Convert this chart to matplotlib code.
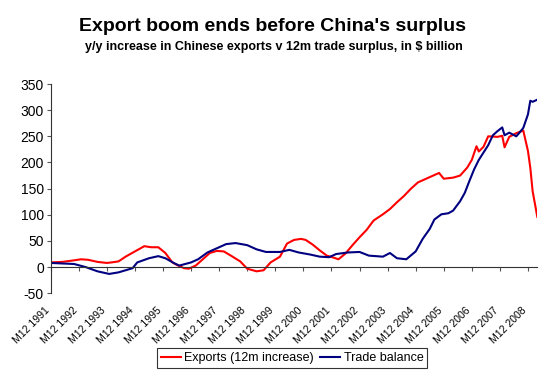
import matplotlib
matplotlib.use("Agg")
import matplotlib.pyplot as plt
import matplotlib.transforms as mtransforms
import numpy as np

plt.rcParams['font.family'] = ['Liberation Sans', 'DejaVu Sans']
plt.rcParams['axes.unicode_minus'] = False

### Data (x = months since Dec 1991)
export_months = [0, 5, 10, 13, 16, 20, 24, 26, 29, 32, 36, 40, 43, 46, 49, 52, 54, 57, 59,
                 62, 65, 68, 71, 74, 77, 81, 84, 88, 91, 94, 98, 101, 104, 107, 109, 112,
                 115, 118, 121, 123, 126, 129, 132, 135, 138, 142, 145, 148, 151, 154, 157,
                 160, 163, 166, 168, 172, 175, 178, 180, 182, 183, 185, 187, 191, 193, 194,
                 196, 199, 202, 204, 205, 206, 208]
export_values = [9, 10, 13, 15, 14, 10, 8, 9, 11, 20, 30, 40, 38, 38, 27, 9, 4, -2, -3,
                 3, 15, 27, 31, 30, 22, 11, -3, -8, -6, 9, 20, 45, 52, 54, 52, 43,
                 32, 22, 18, 15, 26, 42, 57, 71, 89, 101, 111, 124, 136, 150, 162,
                 168, 174, 180, 169, 171, 175, 190, 205, 231, 221, 230, 250, 249, 251, 229,
                 249, 256, 261, 222, 190, 145, 96]

balance_months = [0, 10, 15, 20, 25, 29, 35, 37, 42, 46, 49, 53, 55, 60, 63, 67, 71, 75, 79,
                  84, 88, 92, 98, 102, 106, 111, 115, 119, 122, 127, 132, 136, 142, 145, 148,
                  152, 156, 159, 162, 164, 167, 170, 172, 175, 177, 179, 181, 183, 184, 187,
                  189, 191, 193, 194, 196, 199, 200, 202, 204, 205, 206, 208]
balance_values = [8, 6, 0, -8, -13, -10, -2, 9, 17, 21, 17, 7, 3, 9, 15, 28, 36, 44, 46,
                  42, 34, 29, 29, 33, 28, 24, 20, 19, 25, 28, 29, 22, 20, 27, 17,
                  15, 30, 54, 73, 91, 101, 103, 108, 126, 142, 165, 187, 205, 212, 233,
                  252, 260, 267, 252, 257, 250, 255, 266, 292, 318, 316, 320]

tick_labels = [f"M12 {y}" for y in range(1991, 2009)]
tick_months = [12 * i for i in range(len(tick_labels))]

### Figure
fig = plt.figure(figsize=(5.47, 3.74), dpi=100)
ax = fig.add_axes([0.0927, 0.2158, 0.8896, 0.5596])

ax.plot(export_months, export_values, color='#FF0000', lw=1.5, label='Exports (12m increase)')
ax.plot(balance_months, balance_values, color='#000080', lw=1.5, label='Trade balance')

ax.set_xlim(0, 208)
ax.set_ylim(-50, 350)
ax.set_yticks(np.arange(-50, 351, 50))

for s in ['top', 'right']:
    ax.spines[s].set_visible(False)
ax.spines['bottom'].set_position(('data', 0))
ax.spines['bottom'].set_color('#333333')
ax.spines['left'].set_color('#333333')
ax.spines['bottom'].set_linewidth(0.8)
ax.spines['left'].set_linewidth(0.8)

ax.set_xticks(tick_months)
ax.tick_params(axis='x', direction='out', length=3, color='#555555', labelbottom=False)
ax.tick_params(axis='y', direction='out', length=3, color='#555555', pad=2, labelsize=10)

# category labels sit below the plot area, not at the zero line
trans = mtransforms.blended_transform_factory(ax.transData, ax.transAxes)
for m, lab in zip(tick_months, tick_labels):
    ax.text(m - 1.2, -0.075, lab, transform=trans, rotation=45, rotation_mode='anchor',
            ha='right', va='center', fontsize=7.5)

### Titles
fig.text(0.498, 0.928, "Export boom ends before China's surplus", ha='center', va='center',
         fontsize=14, fontweight='bold')
fig.text(0.5, 0.874, "y/y increase in Chinese exports v 12m trade surplus, in $ billion",
         ha='center', va='center', fontsize=9, fontweight='bold')

leg = fig.legend(loc='center', bbox_to_anchor=(0.534, 0.043), ncol=2, fontsize=9,
                 frameon=True, fancybox=False, edgecolor='black', handlelength=1.6,
                 handletextpad=0.3, columnspacing=0.5, borderpad=0.3)
leg.get_frame().set_linewidth(0.8)

plt.savefig("out.png", dpi=100)
